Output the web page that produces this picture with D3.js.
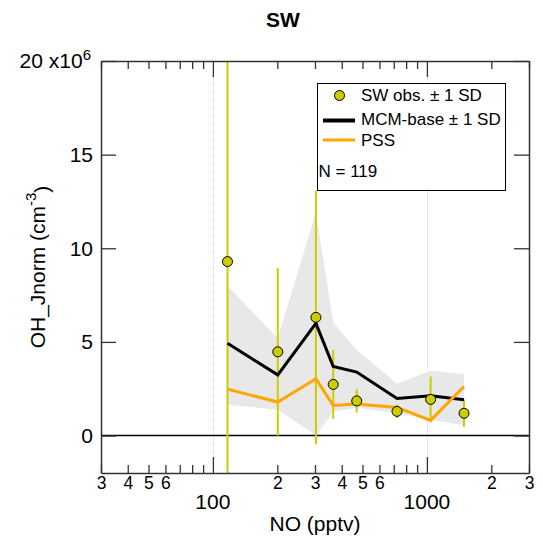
<!DOCTYPE html>
<html><head><meta charset="utf-8">
<script src="https://cdn.jsdelivr.net/npm/d3@7"></script>
<style>body{margin:0;background:#fff}text{font-family:"Liberation Sans",Arial,sans-serif}</style>
</head><body><svg id="c" width="543" height="551"></svg>
<script>
// ---- data ----
const noValues   = [117, 201, 303, 365, 470, 725, 1041, 1491];
const obsMean    = [9.29, 4.47, 6.31, 2.73, 1.85, 1.29, 1.93, 1.19];
const obsSD      = [12.0, 4.48, 6.77, 1.84, 0.62, 0.36, 1.22, 0.72];
const mcmBase    = [4.93, 3.24, 5.99, 3.69, 3.39, 1.98, 2.13, 1.91];
const mcmUpper   = [7.98, 5.20, 11.93, 6.03, 4.57, 2.77, 3.46, 3.28];
const mcmLower   = [1.65, 1.38, 0.00, 1.29, 1.47, 1.21, 0.85, 0.55];
const pss        = [2.48, 1.79, 3.03, 1.61, 1.68, 1.50, 0.81, 2.62];
const yTicks     = [0, 5, 10, 15, 20];
const xMinorTicks = [30,40,50,60,70,80,90,200,300,400,500,600,700,800,900,2000,3000];
const xMajorTicks = [100, 1000];
const xMinorLabels = {30:"3",40:"4",50:"5",60:"6",200:"2",300:"3",400:"4",500:"5",600:"6",2000:"2",3000:"3"};
const nLabel = "N = 119";

const svg = d3.select("#c");
const L = 101, R = 529, T = 61, B = 473;
const x = d3.scaleLog().domain([30, 3000]).range([L, R]);
const y = d3.scaleLinear().domain([-2, 20]).range([B, T]);

const olive = "#cccc00";
const big = 21;

svg.append("defs").append("clipPath").attr("id","clip")
  .append("rect").attr("x",L).attr("y",T).attr("width",R-L).attr("height",B-T);

// grid lines at majors
svg.append("g").selectAll("line").data(xMajorTicks).join("line")
  .attr("x1",d=>Math.round(x(d))+0.5).attr("x2",d=>Math.round(x(d))+0.5).attr("y1",T).attr("y2",B)
  .attr("stroke","#d0d0ff").attr("stroke-width",1).attr("stroke-dasharray","1,1");

const plot = svg.append("g").attr("clip-path","url(#clip)");

// band
const idx = d3.range(noValues.length);
plot.append("path").datum(idx)
  .attr("d", d3.area().x(i=>x(noValues[i])).y0(i=>y(mcmLower[i])).y1(i=>y(mcmUpper[i])))
  .attr("fill","#e8e8e8");

// zero line
plot.append("line").attr("x1",L).attr("x2",R).attr("y1",y(0)).attr("y2",y(0))
  .attr("stroke","#000").attr("stroke-width",1.5);

// error bars
plot.append("g").selectAll("line").data(idx).join("line")
  .attr("x1",i=>x(noValues[i])).attr("x2",i=>x(noValues[i]))
  .attr("y1",i=>y(obsMean[i]+obsSD[i])).attr("y2",i=>y(obsMean[i]-obsSD[i]))
  .attr("stroke",olive).attr("stroke-width",2);

// lines
plot.append("path").datum(idx)
  .attr("d", d3.line().x(i=>x(noValues[i])).y(i=>y(mcmBase[i])))
  .attr("fill","none").attr("stroke","#000").attr("stroke-width",3);
plot.append("path").datum(idx)
  .attr("d", d3.line().x(i=>x(noValues[i])).y(i=>y(pss[i])))
  .attr("fill","none").attr("stroke","#ffa500").attr("stroke-width",3);

// markers
plot.append("g").selectAll("circle").data(idx).join("circle")
  .attr("cx",i=>x(noValues[i])).attr("cy",i=>y(obsMean[i])).attr("r",5)
  .attr("fill",olive).attr("stroke","#000").attr("stroke-width",1);

// axes
const axColor = "#333";
function styleAxis(g){
  g.select(".domain").attr("stroke",axColor).attr("stroke-width",1.5);
  g.selectAll(".tick line").attr("stroke",axColor).attr("stroke-width",1.3);
}
// left
const gl = svg.append("g").attr("transform",`translate(${L},0)`)
  .call(d3.axisLeft(y).tickValues(yTicks).tickSizeInner(-15).tickSizeOuter(0).tickPadding(8).tickFormat(d=>d===20?"":d));
styleAxis(gl);
gl.selectAll(".tick text").attr("font-size",big).attr("fill","#000").attr("font-family","Liberation Sans, Arial, sans-serif");
// 20 x10^6 label
const t20 = svg.append("text").attr("x",L-10).attr("y",y(20)).attr("dy","0.35em")
  .attr("text-anchor","end").attr("font-size",big);
t20.append("tspan").text("20 x10");
t20.append("tspan").attr("dy","-0.55em").attr("font-size",15).text("6");

// right
const gr = svg.append("g").attr("transform",`translate(${R},0)`)
  .call(d3.axisRight(y).tickValues(yTicks).tickSizeInner(-15).tickSizeOuter(0).tickFormat(""));
styleAxis(gr);

// bottom
const allX = xMinorTicks.concat(xMajorTicks).sort((a,b)=>a-b);
const gb = svg.append("g").attr("transform",`translate(0,${B})`)
  .call(d3.axisBottom(x).tickValues(allX).tickSizeInner(-8).tickSizeOuter(0).tickPadding(6)
    .tickFormat(d=>xMinorLabels[d]||""));
styleAxis(gb);
gb.selectAll(".tick line").attr("y2",d=>xMajorTicks.includes(d)?-16:-8);
gb.selectAll(".tick text").attr("font-size",17.5).attr("fill","#000").attr("y",4).attr("font-family","Liberation Sans, Arial, sans-serif");
svg.append("g").selectAll("text").data(xMajorTicks).join("text")
  .attr("x",d=>x(d)).attr("y",509).attr("text-anchor","middle").attr("font-size",big).text(d=>d);

// top
const gt = svg.append("g").attr("transform",`translate(0,${T})`)
  .call(d3.axisTop(x).tickValues(allX).tickSizeInner(-8).tickSizeOuter(0).tickFormat(""));
styleAxis(gt);
gt.selectAll(".tick line").attr("y2",d=>xMajorTicks.includes(d)?16:8);

// axis titles
svg.append("text").attr("x",(L+R)/2).attr("y",531).attr("text-anchor","middle").attr("font-size",big).text("NO (pptv)");
const yl = svg.append("text").attr("transform",`translate(45,${(T+B)/2}) rotate(-90)`)
  .attr("text-anchor","middle").attr("font-size",big);
yl.append("tspan").text("OH_Jnorm (cm");
yl.append("tspan").attr("dy","-0.6em").attr("font-size",15).text("-3");
yl.append("tspan").attr("dy","0.6em").text(")");

// title
svg.append("text").attr("x",283).attr("y",27).attr("text-anchor","middle")
  .attr("font-size",21).attr("font-weight","bold").text("SW");

// legend
const lg = svg.append("g");
lg.append("rect").attr("x",317.5).attr("y",83.5).attr("width",188).attr("height",107)
  .attr("fill","#fff").attr("stroke","#000").attr("stroke-width",1);
lg.append("circle").attr("cx",339.5).attr("cy",95.5).attr("r",5).attr("fill",olive).attr("stroke","#000");
lg.append("line").attr("x1",323).attr("x2",355).attr("y1",120.5).attr("y2",120.5).attr("stroke","#000").attr("stroke-width",4);
lg.append("line").attr("x1",323).attr("x2",355).attr("y1",140).attr("y2",140).attr("stroke","#ffa500").attr("stroke-width",3);
const legTexts = ["SW obs. \u00b1 1 SD","MCM-base \u00b1 1 SD","PSS"];
const legY = [95, 119, 140];
lg.selectAll("text.lt").data(legTexts).join("text").attr("class","lt")
  .attr("x",361).attr("y",(d,i)=>legY[i]).attr("dy","0.35em").attr("font-size",17).text(d=>d);
lg.append("text").attr("x",318.5).attr("y",171).attr("dy","0.35em").attr("font-size",17).text(nLabel);
</script></body></html>
